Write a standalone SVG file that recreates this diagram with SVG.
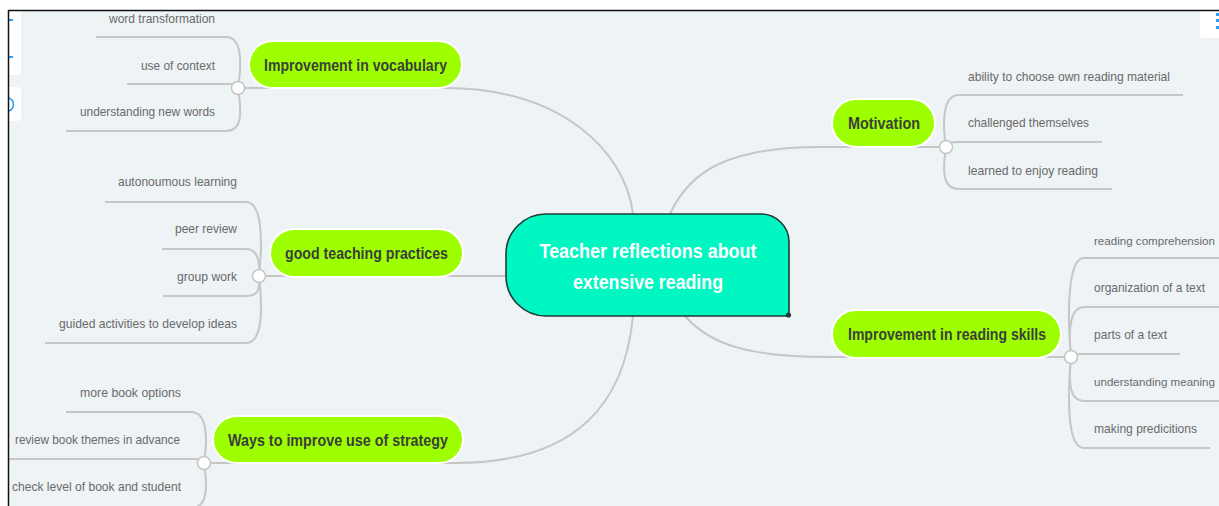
<svg xmlns="http://www.w3.org/2000/svg" width="1219" height="506" viewBox="0 0 1219 506">
<defs>
<style>
.bg{fill:#eef3f6}
.ln{fill:none;stroke:#c6c6c6;stroke-width:2}
.dot{fill:#ffffff;stroke:#c6c6c6;stroke-width:1.5}
.br{fill:#9eff00;stroke:#ffffff;stroke-width:2}
.bt{font-family:"Liberation Sans",Arial,sans-serif;font-weight:bold;font-size:16px;fill:#3a3f3a}
.lt{font-family:"Liberation Sans",Arial,sans-serif;font-size:13px;fill:#6a6a6a}
.ltn{font-size:11.6px}
.ct{font-family:"Liberation Sans",Arial,sans-serif;font-weight:bold;font-size:21px;fill:#ffffff}
</style>
</defs>
<rect class="bg" x="0" y="0" width="1219" height="506"/>

<g id="connectors">
<path class="ln" d="M238,88 L445,88 C560,88 625,150 633,214"/>
<path class="ln" d="M259,276 L506,276"/>
<path class="ln" d="M204,463 L455,463 C580,463 625,400 633,316"/>
<path class="ln" d="M670,214 C690,170 730,147 820,147 L946,147"/>
<path class="ln" d="M685,316 C710,345 750,357 830,357 L1071,357"/>
<!-- vocabulary leaves -->
<path class="ln" d="M238,88 C242,62 242,37 226,37 L96,37"/>
<path class="ln" d="M238,88 Q236,84 228,84 L127,84"/>
<path class="ln" d="M238,88 C242,114 242,131 226,131 L66,131"/>
<!-- good teaching leaves -->
<path class="ln" d="M259,276 C263,240 262,202 246,202 L105,202"/>
<path class="ln" d="M259,276 C260,262 258,249 246,249 L162,249"/>
<path class="ln" d="M259,276 C260,290 258,296 246,296 L163,296"/>
<path class="ln" d="M259,276 C263,312 262,343 246,343 L45,343"/>
<!-- ways leaves -->
<path class="ln" d="M204,463 C208,437 207,412 191,412 L66,412"/>
<path class="ln" d="M204,463 Q202,459 194,459 L9,459"/>
<path class="ln" d="M204,463 C208,489 207,508 191,508 L9,508"/>
<!-- motivation leaves -->
<path class="ln" d="M946,147 C942,121 943,95 959,95 L1183,95"/>
<path class="ln" d="M946,147 Q948,142 956,142 L1102,142"/>
<path class="ln" d="M946,147 C942,173 943,189 959,189 L1112,189"/>
<!-- reading leaves -->
<path class="ln" d="M1071,357 C1067,310 1068,258 1084,258 L1219,258"/>
<path class="ln" d="M1071,357 C1068,330 1070,307 1084,307 L1219,307"/>
<path class="ln" d="M1071,357 Q1073,354 1081,354 L1180,354"/>
<path class="ln" d="M1071,357 C1068,384 1070,401 1084,401 L1219,401"/>
<path class="ln" d="M1071,357 C1067,404 1068,448 1084,448 L1210,448"/>
<circle class="dot" cx="238" cy="88" r="6.5"/>
<circle class="dot" cx="259" cy="276" r="6.5"/>
<circle class="dot" cx="204" cy="463" r="6.5"/>
<circle class="dot" cx="946" cy="147" r="6.5"/>
<circle class="dot" cx="1071" cy="357" r="6.5"/>
</g>

<g id="central">
<path d="M546,214 L761,214 A28,28 0 0 1 789,242 L789,316 L546,316 A40,40 0 0 1 506,276 L506,254 A40,40 0 0 1 546,214 Z" fill="#00f7c2" stroke="#1d3b38" stroke-width="1.6"/>
<circle cx="788.5" cy="315" r="2.6" fill="#1d3b38"/>
<text class="ct" x="648" y="258" text-anchor="middle" textLength="217" lengthAdjust="spacingAndGlyphs">Teacher reflections about</text>
<text class="ct" x="648" y="289" text-anchor="middle" textLength="150" lengthAdjust="spacingAndGlyphs">extensive reading</text>
</g>

<g id="vocabulary">
<rect class="br" x="249" y="41" width="213" height="47" rx="23.5"/>
<text class="bt" x="355.5" y="71" text-anchor="middle" textLength="183" lengthAdjust="spacingAndGlyphs">Improvement in vocabulary</text>
</g>
<g id="teaching">
<rect class="br" x="270" y="229" width="193" height="48" rx="24"/>
<text class="bt" x="366.5" y="259" text-anchor="middle" textLength="163" lengthAdjust="spacingAndGlyphs">good teaching practices</text>
</g>
<g id="ways">
<rect class="br" x="213" y="416" width="250" height="47" rx="23.5"/>
<text class="bt" x="338" y="446" text-anchor="middle" textLength="220" lengthAdjust="spacingAndGlyphs">Ways to improve use of strategy</text>
</g>
<g id="motivation">
<rect class="br" x="832" y="99" width="103" height="48" rx="24"/>
<text class="bt" x="884" y="129" text-anchor="middle" textLength="72" lengthAdjust="spacingAndGlyphs">Motivation</text>
</g>
<g id="reading">
<rect class="br" x="832" y="310" width="229" height="48" rx="24"/>
<text class="bt" x="947" y="340" text-anchor="middle" textLength="198" lengthAdjust="spacingAndGlyphs">Improvement in reading skills</text>
</g>

<g id="leaves-left" text-anchor="end">
<text class="lt" x="215" y="23" textLength="106" lengthAdjust="spacingAndGlyphs">word transformation</text>
<text class="lt" x="215" y="70" textLength="74" lengthAdjust="spacingAndGlyphs">use of context</text>
<text class="lt" x="215" y="116" textLength="135" lengthAdjust="spacingAndGlyphs">understanding new words</text>
<text class="lt" x="237" y="186" textLength="119" lengthAdjust="spacingAndGlyphs">autonoumous learning</text>
<text class="lt" x="237" y="233" textLength="62" lengthAdjust="spacingAndGlyphs">peer review</text>
<text class="lt" x="237" y="281" textLength="60" lengthAdjust="spacingAndGlyphs">group work</text>
<text class="lt" x="237" y="328" textLength="178" lengthAdjust="spacingAndGlyphs">guided activities to develop ideas</text>
<text class="lt" x="181" y="397" textLength="101" lengthAdjust="spacingAndGlyphs">more book options</text>
<text class="lt" x="180" y="444" textLength="165" lengthAdjust="spacingAndGlyphs">review book themes in advance</text>
<text class="lt" x="181" y="491" textLength="169" lengthAdjust="spacingAndGlyphs">check level of book and student</text>
</g>
<g id="leaves-right">
<text class="lt" x="968" y="81" textLength="202" lengthAdjust="spacingAndGlyphs">ability to choose own reading material</text>
<text class="lt" x="968" y="127" textLength="121" lengthAdjust="spacingAndGlyphs">challenged themselves</text>
<text class="lt" x="968" y="175" textLength="130" lengthAdjust="spacingAndGlyphs">learned to enjoy reading</text>
<text class="lt ltn" x="1094" y="245" textLength="121" lengthAdjust="spacingAndGlyphs">reading comprehension</text>
<text class="lt" x="1094" y="292" textLength="111" lengthAdjust="spacingAndGlyphs">organization of a text</text>
<text class="lt" x="1094" y="339" textLength="73" lengthAdjust="spacingAndGlyphs">parts of a text</text>
<text class="lt ltn" x="1094" y="386" textLength="121" lengthAdjust="spacingAndGlyphs">understanding meaning</text>
<text class="lt" x="1094" y="433" textLength="103" lengthAdjust="spacingAndGlyphs">making predicitions</text>
</g>

<g id="frame">
<rect x="0" y="0" width="1219" height="10" fill="#ffffff"/>
<rect x="0" y="0" width="8" height="506" fill="#ffffff"/>
<path d="M9,75 L9,11 L21,11 L21,71 Q21,75 17,75 Z" fill="#ffffff"/>
<path d="M9,121 L9,87 L17,87 Q21,87 21,91 L21,117 Q21,121 17,121 Z" fill="#ffffff"/>
<path d="M1219,11 L1200,11 L1200,35 Q1200,38 1203,38 L1219,38 Z" fill="#ffffff"/>
<rect x="9" y="19" width="4" height="2" fill="#2a9df4"/>
<rect x="9" y="56" width="4" height="2" fill="#2a9df4"/>
<path d="M9,98 A7,7 0 0 1 9,111" fill="none" stroke="#2a9df4" stroke-width="1.5"/>
<rect x="1216" y="13" width="3" height="3" fill="#2a9df4"/>
<rect x="1216" y="19" width="3" height="3" fill="#2a9df4"/>
<rect x="1216" y="26" width="3" height="3" fill="#2a9df4"/>
<line x1="8" y1="10.5" x2="1219" y2="10.5" stroke="#111111" stroke-width="1.5"/>
<line x1="8.5" y1="10" x2="8.5" y2="506" stroke="#111111" stroke-width="1.5"/>
</g>
</svg>
